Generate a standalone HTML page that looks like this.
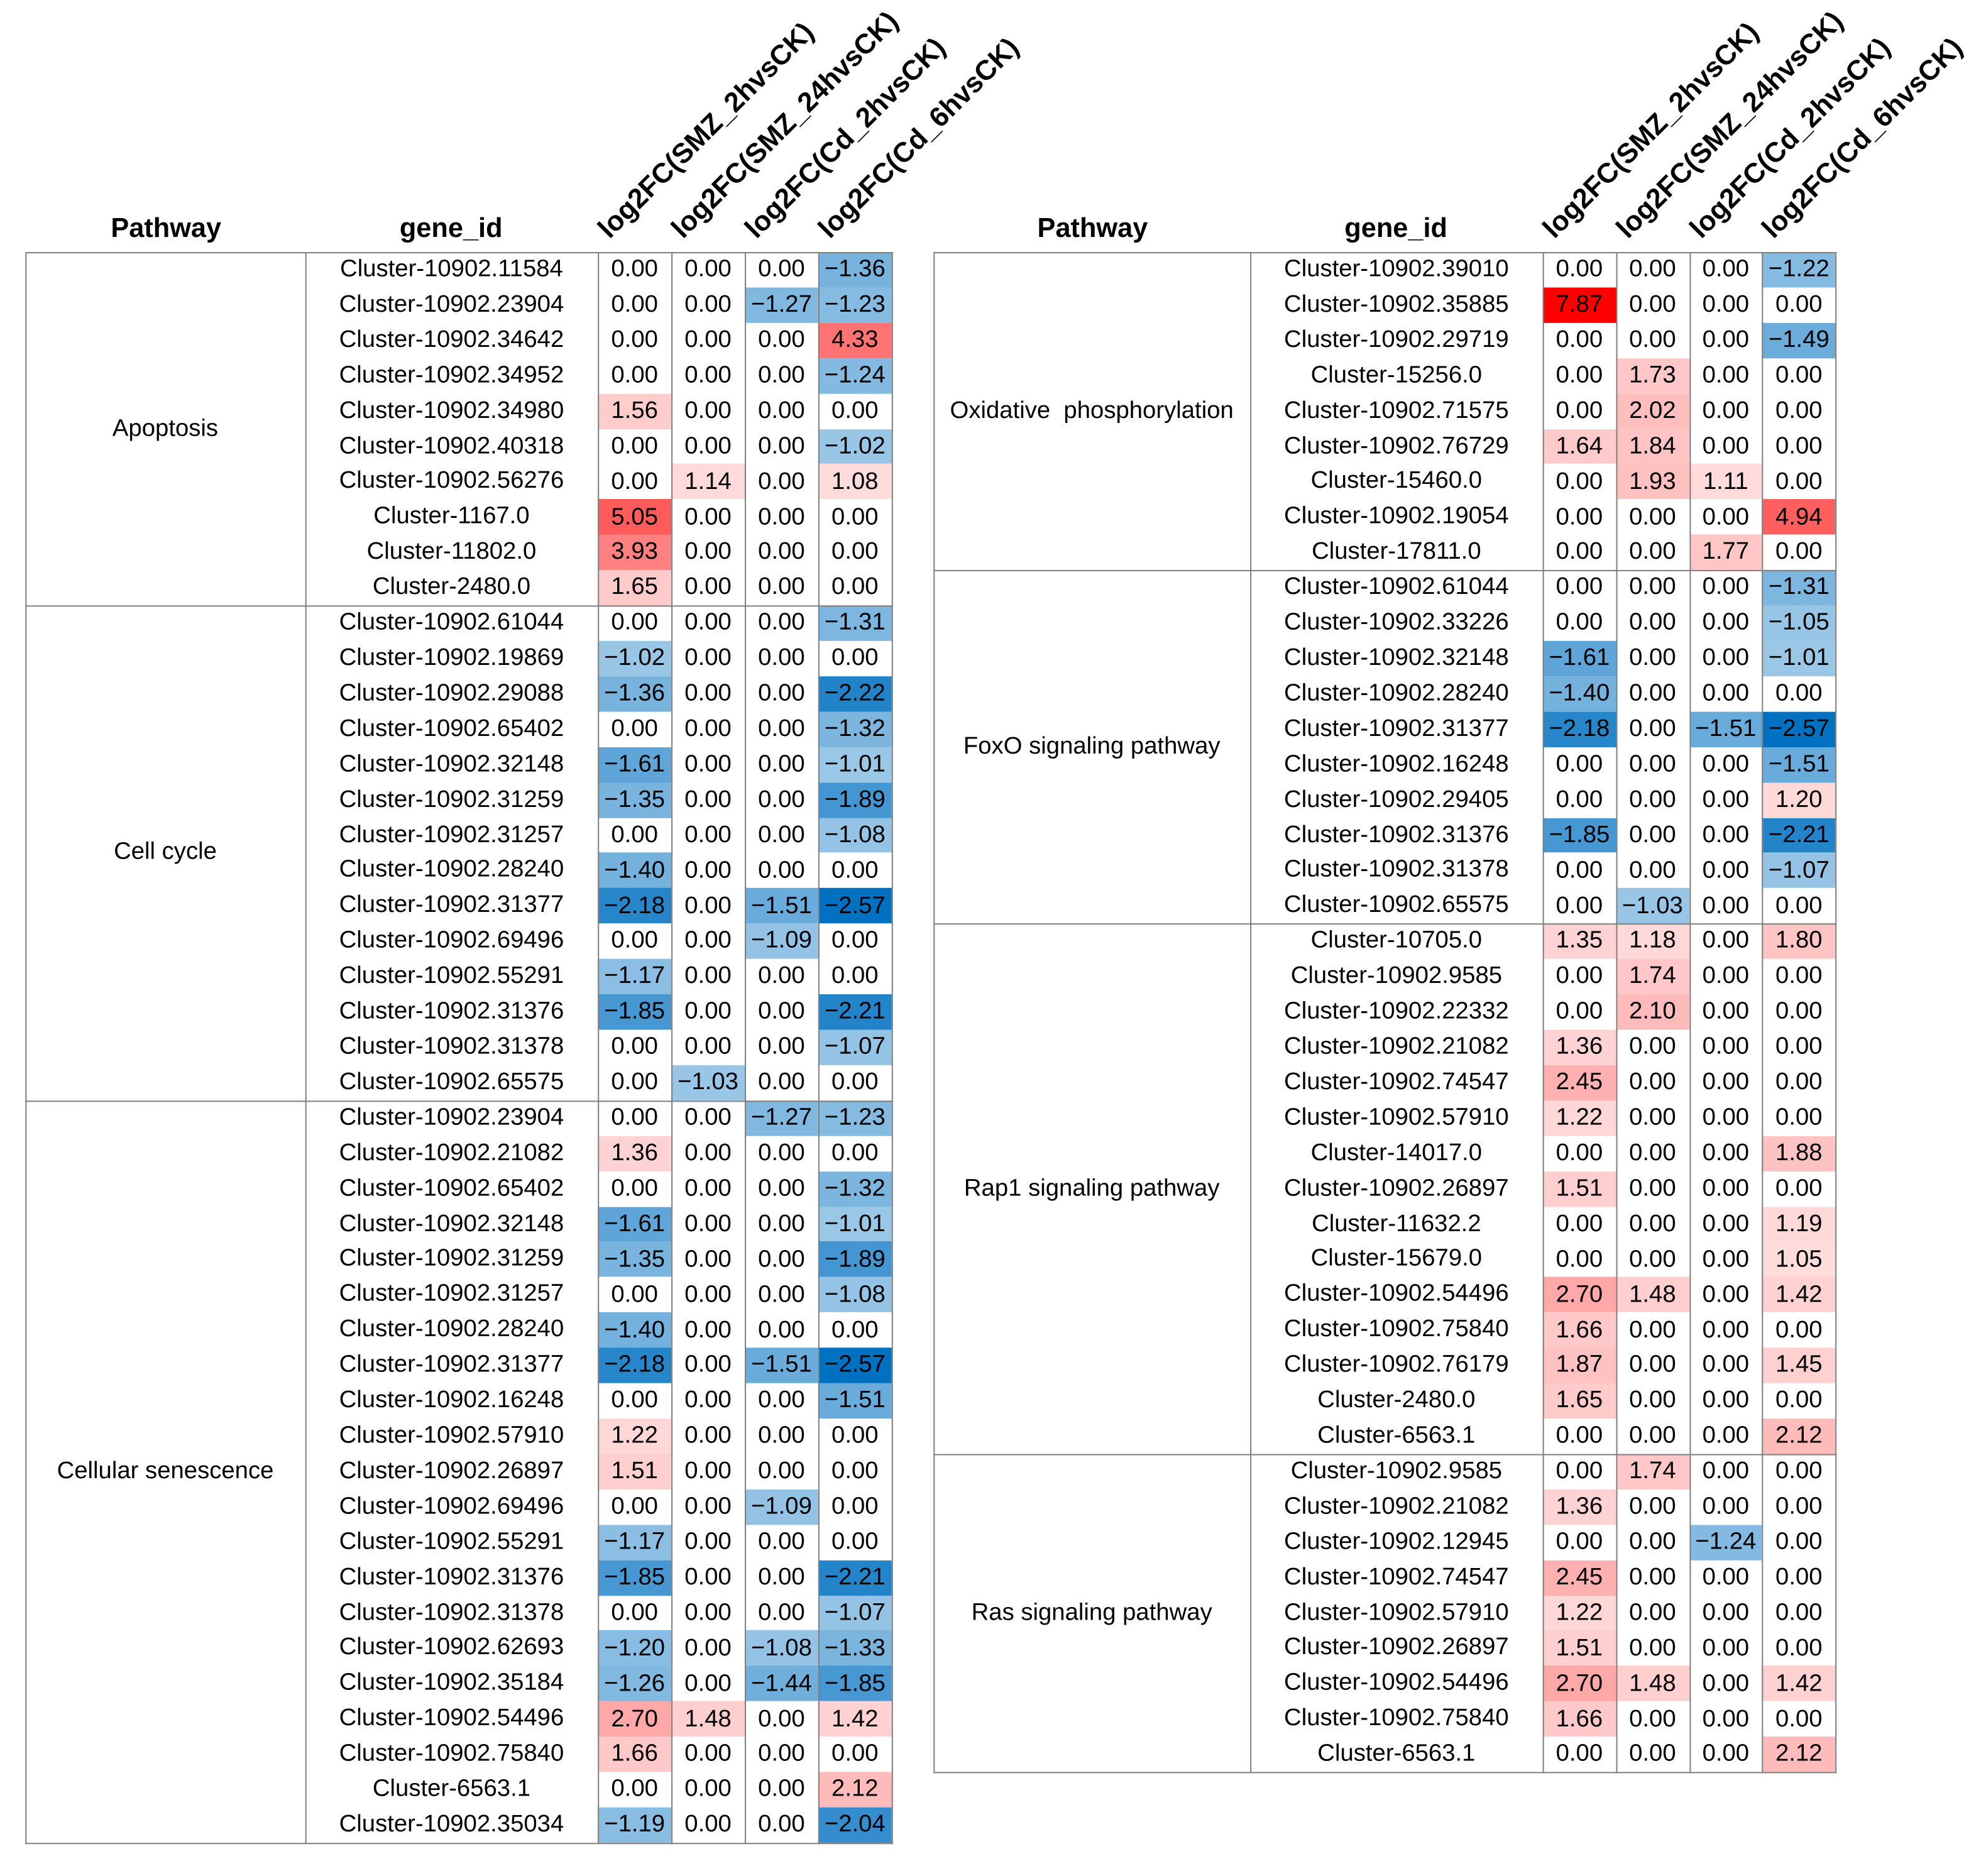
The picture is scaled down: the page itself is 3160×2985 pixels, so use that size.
<!DOCTYPE html>
<html><head><meta charset="utf-8">
<style>
html,body{margin:0;padding:0;background:#fff;}
#root{position:absolute;left:0;top:0;width:1568px;height:1481px;transform:scale(2.01531);transform-origin:0 0;font-family:"Liberation Sans",Arial,sans-serif;color:#000;}
.abs{position:absolute;}
.hdr{font-weight:bold;font-size:21.5px;line-height:21px;white-space:nowrap;}
.rot{font-weight:bold;font-size:22px;line-height:22px;white-space:nowrap;transform-origin:0 100%;transform:rotate(-45deg);}
.cell{position:absolute;display:flex;align-items:center;justify-content:center;white-space:nowrap;}
.gene{font-size:19px;}
.val{font-size:19px;}
.path{font-size:19px;}
.vl{position:absolute;width:1px;background:#7f7f7f;}
.hl{position:absolute;height:1px;background:#7f7f7f;}
</style></head>
<body>
<div id="root"></div>
<script>
const columns = ["log2FC(SMZ_2hvsCK)","log2FC(SMZ_24hvsCK)","log2FC(Cd_2hvsCK)","log2FC(Cd_6hvsCK)"];
const leftPathways = ["Apoptosis","Cell cycle","Cellular senescence"];
const leftCounts = [10,14,21];
const leftGenes = ["Cluster-10902.11584","Cluster-10902.23904","Cluster-10902.34642","Cluster-10902.34952","Cluster-10902.34980","Cluster-10902.40318","Cluster-10902.56276","Cluster-1167.0","Cluster-11802.0","Cluster-2480.0",
"Cluster-10902.61044","Cluster-10902.19869","Cluster-10902.29088","Cluster-10902.65402","Cluster-10902.32148","Cluster-10902.31259","Cluster-10902.31257","Cluster-10902.28240","Cluster-10902.31377","Cluster-10902.69496","Cluster-10902.55291","Cluster-10902.31376","Cluster-10902.31378","Cluster-10902.65575",
"Cluster-10902.23904","Cluster-10902.21082","Cluster-10902.65402","Cluster-10902.32148","Cluster-10902.31259","Cluster-10902.31257","Cluster-10902.28240","Cluster-10902.31377","Cluster-10902.16248","Cluster-10902.57910","Cluster-10902.26897","Cluster-10902.69496","Cluster-10902.55291","Cluster-10902.31376","Cluster-10902.31378","Cluster-10902.62693","Cluster-10902.35184","Cluster-10902.54496","Cluster-10902.75840","Cluster-6563.1","Cluster-10902.35034"];
const leftValues = [[0,0,0,-1.36],[0,0,-1.27,-1.23],[0,0,0,4.33],[0,0,0,-1.24],[1.56,0,0,0],[0,0,0,-1.02],[0,1.14,0,1.08],[5.05,0,0,0],[3.93,0,0,0],[1.65,0,0,0],
[0,0,0,-1.31],[-1.02,0,0,0],[-1.36,0,0,-2.22],[0,0,0,-1.32],[-1.61,0,0,-1.01],[-1.35,0,0,-1.89],[0,0,0,-1.08],[-1.40,0,0,0],[-2.18,0,-1.51,-2.57],[0,0,-1.09,0],[-1.17,0,0,0],[-1.85,0,0,-2.21],[0,0,0,-1.07],[0,-1.03,0,0],
[0,0,-1.27,-1.23],[1.36,0,0,0],[0,0,0,-1.32],[-1.61,0,0,-1.01],[-1.35,0,0,-1.89],[0,0,0,-1.08],[-1.40,0,0,0],[-2.18,0,-1.51,-2.57],[0,0,0,-1.51],[1.22,0,0,0],[1.51,0,0,0],[0,0,-1.09,0],[-1.17,0,0,0],[-1.85,0,0,-2.21],[0,0,0,-1.07],[-1.20,0,-1.08,-1.33],[-1.26,0,-1.44,-1.85],[2.70,1.48,0,1.42],[1.66,0,0,0],[0,0,0,2.12],[-1.19,0,0,-2.04]];
const rightPathways = ["Oxidative  phosphorylation","FoxO signaling pathway","Rap1 signaling pathway","Ras signaling pathway"];
const rightCounts = [9,10,15,9];
const rightGenes = ["Cluster-10902.39010","Cluster-10902.35885","Cluster-10902.29719","Cluster-15256.0","Cluster-10902.71575","Cluster-10902.76729","Cluster-15460.0","Cluster-10902.19054","Cluster-17811.0",
"Cluster-10902.61044","Cluster-10902.33226","Cluster-10902.32148","Cluster-10902.28240","Cluster-10902.31377","Cluster-10902.16248","Cluster-10902.29405","Cluster-10902.31376","Cluster-10902.31378","Cluster-10902.65575",
"Cluster-10705.0","Cluster-10902.9585","Cluster-10902.22332","Cluster-10902.21082","Cluster-10902.74547","Cluster-10902.57910","Cluster-14017.0","Cluster-10902.26897","Cluster-11632.2","Cluster-15679.0","Cluster-10902.54496","Cluster-10902.75840","Cluster-10902.76179","Cluster-2480.0","Cluster-6563.1",
"Cluster-10902.9585","Cluster-10902.21082","Cluster-10902.12945","Cluster-10902.74547","Cluster-10902.57910","Cluster-10902.26897","Cluster-10902.54496","Cluster-10902.75840","Cluster-6563.1"];
const rightValues = [[0,0,0,-1.22],[7.87,0,0,0],[0,0,0,-1.49],[0,1.73,0,0],[0,2.02,0,0],[1.64,1.84,0,0],[0,1.93,1.11,0],[0,0,0,4.94],[0,0,1.77,0],
[0,0,0,-1.31],[0,0,0,-1.05],[-1.61,0,0,-1.01],[-1.40,0,0,0],[-2.18,0,-1.51,-2.57],[0,0,0,-1.51],[0,0,0,1.20],[-1.85,0,0,-2.21],[0,0,0,-1.07],[0,-1.03,0,0],
[1.35,1.18,0,1.80],[0,1.74,0,0],[0,2.10,0,0],[1.36,0,0,0],[2.45,0,0,0],[1.22,0,0,0],[0,0,0,1.88],[1.51,0,0,0],[0,0,0,1.19],[0,0,0,1.05],[2.70,1.48,0,1.42],[1.66,0,0,0],[1.87,0,0,1.45],[1.65,0,0,0],[0,0,0,2.12],
[0,1.74,0,0],[1.36,0,0,0],[0,0,-1.24,0],[2.45,0,0,0],[1.22,0,0,0],[1.51,0,0,0],[2.70,1.48,0,1.42],[1.66,0,0,0],[0,0,0,2.12]];

const POS_MAX = 7.87, NEG_MAX = 2.57;
function colorFor(v){
  if (v > 0){ const t=Math.min(1,v/POS_MAX); const g=Math.round(255*(1-t)); return `rgb(255,${g},${g})`; }
  if (v < 0){ const t=Math.min(1,-v/NEG_MAX); return `rgb(${Math.round(255-255*t)},${Math.round(255-143*t)},${Math.round(255-63*t)})`; }
  return '#fff';
}
function fmt(v){ const s=Math.abs(v).toFixed(2); return v<0?'\u2212'+s:s; }

const root=document.getElementById('root');
const TOP=199, RH=27.91;

function mk(cls, x, y, w, h){
  const d=document.createElement('div'); d.className=cls;
  d.style.left=x+'px'; d.style.top=y+'px';
  if(w!=null) d.style.width=w+'px'; if(h!=null) d.style.height=h+'px';
  root.appendChild(d); return d;
}

function panel(key, x0, xg, xv, cw, pathways, counts, genes, values){
  const n=genes.length, bottom=TOP+n*RH, right=xv+4*cw;
  let h=mk('abs hdr', 0, 170, null, null); h.textContent='Pathway';
   
  h.style.left=((x0+xg)/2-43)+'px';
  h=mk('abs hdr', 0, 170, null, null); h.textContent='gene_id';
   
  h.style.left=((xg+xv)/2-41)+'px';
  columns.forEach((c,i)=>{
    const r=mk('abs rot', xv+i*cw+12, 170, null, null); r.textContent=c;
     
  });
  genes.forEach((g,r)=>{
    const y=TOP+r*RH;
    const gc=mk('cell gene', xg, y, xv-xg, RH); gc.textContent=g;
     
    values[r].forEach((v,c)=>{
      const vc=mk('cell val', xv+c*cw, y, cw, RH+0.5); vc.textContent=fmt(v);
      vc.style.background=colorFor(v);
       
    });
  });
  let start=0;
  counts.forEach((cnt,i)=>{
    const y=TOP+start*RH;
    const p=mk('cell path', x0, y, xg-x0, cnt*RH); p.textContent=pathways[i];
    p.style.whiteSpace='pre';
     
    const l=mk('hl', x0, y, right-x0+1, null);
     
    start+=cnt;
  });
  const bl=mk('hl', x0, bottom, right-x0+1, null);
   
  [x0,xg,xv,xv+cw,xv+2*cw,xv+3*cw,right].forEach(x=>{
    const v=mk('vl', x, TOP, null, bottom-TOP+1);
     
  });
}
panel('left', 20, 241, 472, 58, leftPathways, leftCounts, leftGenes, leftValues);
panel('right', 737, 987, 1218, 57.8, rightPathways, rightCounts, rightGenes, rightValues);
</script>
</body></html>
